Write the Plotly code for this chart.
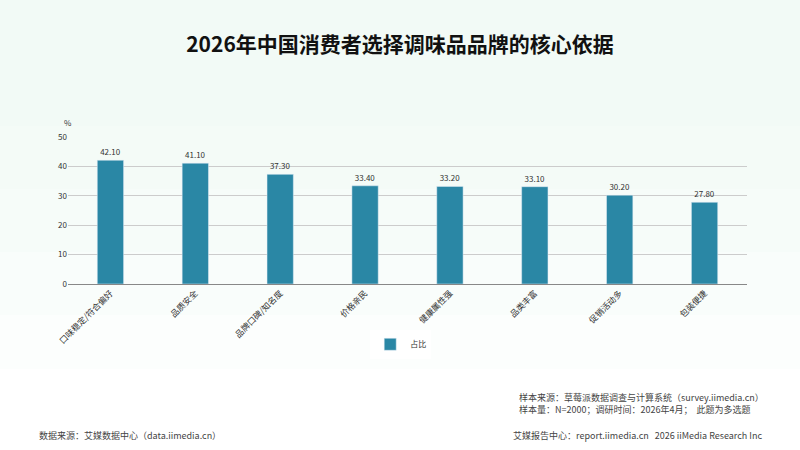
import plotly.graph_objects as go

categories = ["口味稳定/符合偏好", "品质安全", "品牌口碑/知名度", "价格亲民",
              "健康属性强", "品类丰富", "促销活动多", "包装便捷"]
share = [42.10, 41.10, 37.30, 33.40, 33.20, 33.10, 30.20, 27.80]
y_ticks = [0, 10, 20, 30, 40, 50]

font = "Noto Sans CJK SC"

fig = go.Figure()
fig.add_trace(go.Bar(
    x=categories, y=share, name="占比",
    marker=dict(color="#2a87a5"),
    text=[f"{v:.2f}" for v in share], textposition="outside",
    textfont=dict(size=8, color="#333333"),
    cliponaxis=False,
))

fig.update_layout(
    width=800, height=450,
    margin=dict(l=68, r=53, t=137, b=166),
    paper_bgcolor="#ffffff", plot_bgcolor="rgba(0,0,0,0)",
    font=dict(family=font, color="#333333"),
    title=dict(text="<b>2026年中国消费者选择调味品品牌的核心依据</b>",
               x=0.5, xanchor="center", y=0.9, yanchor="middle",
               font=dict(size=21, color="#111111")),
    bargap=0.69,
    showlegend=True,
    legend=dict(orientation="h", x=0.49, xanchor="center", y=-0.41, yanchor="middle",
                font=dict(size=8), itemwidth=30),
    xaxis=dict(tickangle=-45, tickfont=dict(size=8.5, color="#333333"),
               showline=True, linecolor="#888888", linewidth=1, ticks=""),
    yaxis=dict(range=[0, 50], tickvals=y_ticks, tickfont=dict(size=8, color="#333333"),
               gridcolor="#cccccc", gridwidth=1, zeroline=False, ticks=""),
)

# faint mint wash fading out towards the bottom of the page
for frac in [0.28, 0.42, 0.56, 0.7, 0.82]:
    fig.add_shape(type="rect", xref="paper", yref="paper", layer="below",
                  x0=-68 / 679, x1=(800 - 68) / 679,
                  y0=(284 - 450 * frac) / 147, y1=284 / 147,
                  fillcolor="#e6f7ef", opacity=0.13, line_width=0)

fig.add_annotation(text="%", xref="paper", yref="paper", x=0, y=1.05,
                   xanchor="center", yanchor="bottom", showarrow=False,
                   font=dict(size=8))

foot = dict(showarrow=False, xref="paper", yref="paper", font=dict(size=9, color="#444444"))
fig.add_annotation(text="样本来源：草莓派数据调查与计算系统（survey.iimedia.cn）<br>样本量：N=2000；调研时间：2026年4月；  此题为多选题",
                   x=(766 - 68) / 679, y=-(403 - 284) / 147, xanchor="right", yanchor="middle",
                   align="left", **foot)
fig.add_annotation(text="数据来源：艾媒数据中心（data.iimedia.cn）",
                   x=(37 - 68) / 679, y=-(435 - 284) / 147, xanchor="left", yanchor="middle", **foot)
fig.add_annotation(text="艾媒报告中心：report.iimedia.cn   2026 iiMedia Research Inc",
                   x=(764 - 68) / 679, y=-(435 - 284) / 147, xanchor="right", yanchor="middle", **foot)

fig.write_html("out.html", config={"displayModeBar": False},
               post_script="document.body.style.margin='0';")
